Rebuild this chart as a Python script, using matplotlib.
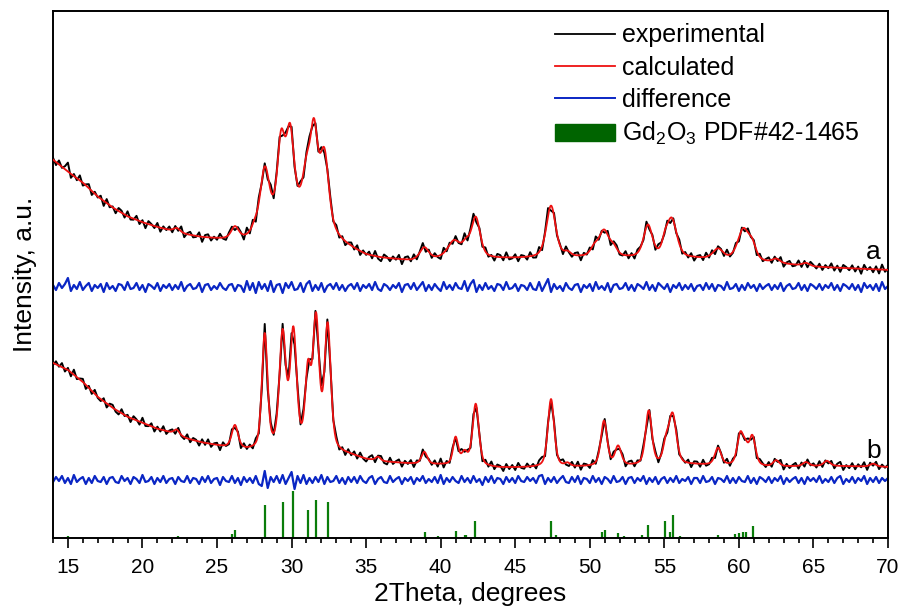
import numpy as np
import matplotlib
matplotlib.use("Agg")
import matplotlib.pyplot as plt
from matplotlib.lines import Line2D
from matplotlib.patches import Patch
from matplotlib.ticker import MultipleLocator

plt.rcParams['font.family'] = ['Liberation Sans', 'DejaVu Sans']
plt.rcParams['mathtext.fontset'] = 'custom'
plt.rcParams['mathtext.rm'] = 'Liberation Sans'
plt.rcParams['mathtext.it'] = 'Liberation Sans:italic'

# --- sample a: background knots and fitted peaks (2theta, a.u.)
bg_a_x = [14, 15, 16, 17, 18, 19, 20, 21, 22, 23, 24, 25, 26, 27, 28, 30, 33, 34, 35, 36, 37, 38,
          40, 45, 50, 57, 60, 62, 65, 70]
bg_a_y = [378, 366, 355, 341, 330, 321, 315, 310, 306, 302, 299, 297, 295, 293, 291, 290, 289, 285,
          280, 278, 277, 276, 278, 279, 280, 279, 277, 275, 271, 268]
peak_a_pos = [30.4, 22.3, 26.2, 27.5, 28.2, 29.3, 29.9, 31.0, 31.5, 32.2, 38.9, 40.9, 41.7, 42.35,
              47.4, 48.5, 50.3, 50.95, 51.6, 53.9, 55.05, 55.5, 58.6, 60.3, 60.9, 62.5, 64.5]
peak_a_h = [36, 4, 12, 6, 62, 76, 76, 36, 84, 73, 12, 17, 11, 40,
            52, 4, 8, 26, 8, 32, 11, 38, 10, 31, 13, 4, 3]
peak_a_w = [3.6, 0.5, 0.6, 0.5, 0.75, 0.6, 0.6, 0.6, 0.6, 0.7, 0.7, 1.0, 0.6, 0.7,
            0.75, 0.5, 0.6, 0.8, 0.6, 0.7, 0.5, 0.8, 0.8, 0.9, 0.6, 0.6, 0.6]

# --- sample b
bg_b_x = [14, 15, 16, 17, 18, 19, 20, 21, 22, 23, 24, 25, 26, 27, 28, 30, 33, 34, 35, 36, 37, 38,
          40, 44, 50, 57, 62, 66, 70]
bg_b_y = [175, 168, 156, 141, 130, 121, 115, 109, 105, 99, 95, 92, 89, 87, 86, 85, 84, 82, 78, 76,
          75, 74, 73, 70, 71, 73, 71, 72, 71]
peak_b_pos = [22.3, 26.2, 28.2, 29.4, 30.12, 31.1, 31.64, 32.42, 35.8, 38.9, 41.0, 41.6, 42.35,
              47.4, 48.5, 50.95, 51.9, 53.95, 55.1, 55.55, 58.6, 60.1, 60.45, 60.9, 62.5, 64.5,
              65.9, 69.0]
peak_b_h = [5, 23, 115, 114, 116, 74, 128, 124, 4, 12, 27, 12, 62,
            68, 3, 45, 19, 54, 17, 50, 17, 31, 13, 29, 6, 4,
            5, 3]
peak_b_w = [0.4, 0.5, 0.45, 0.52, 0.52, 0.45, 0.5, 0.5, 0.4, 0.45, 0.4, 0.5, 0.5,
            0.5, 0.4, 0.5, 0.5, 0.5, 0.45, 0.6, 0.5, 0.5, 0.4, 0.5, 0.5, 0.5,
            0.5, 0.5]

# residuals (exp - calc) every 0.2 deg from 14 to 70
resid_a = [
    2, -3, 4, -1, 3, 9, -4, 2, -2, 5, -3, 1, 4, -4, 2, -1, 3, -5, 4, -2,
    1, -4, 3, 2, -3, 5, -2, -1, 4, -3, 2, -5, 3, 1, -2, 4, -4, 2, -1, 3,
    -3, 2, -2, 5, -4, 1, 3, -2, -1, 4, -5, 2, 3, -3, 1, -2, 4, -1, -3, 2,
    3, -4, 2, 1, -5, 6, -3, 4, -6, 5, -2, 3, -4, 6, -5, 2, 3, -6, 4, -1,
    5, -3, -2, 4, -5, 3, 6, -4, 2, -3, 4, -5, 1, 3, -2, 4, -3, 2, -4, 1,
    3, -2, 4, -4, 2, -1, 3, -3, 5, -2, -4, 3, 1, -3, 2, -1, 4, -5, 2, 3,
    -2, 4, -3, 1, 5, -4, 2, -3, 3, -1, -4, 5, -2, 2, -3, 4, -1, -2, 6, -4,
    3, 7, -5, 2, -3, 4, -2, 1, -4, 3, 2, -3, 5, -2, -1, 3, -4, 2, 1, -3,
    4, -2, -3, 5, -4, 2, 8, -5, 3, -2, 1, -4, 4, -1, -3, 2, 3, -5, 2, -1,
    3, -4, 5, -2, 1, -3, 4, -5, 2, 3, -2, -1, 4, -3, 2, -4, 3, 1, -2, 5,
    -3, 2, -4, 4, 1, -2, 3, -5, 2, -1, 4, -3, 2, -2, 3, -4, 1, 2, -3, 4,
    -2, 3, -4, 2, 1, -3, 5, -2, -1, 3, -4, 2, -3, 4, -1, 2, -4, 3, -2, 1,
    3, -3, 2, -2, 4, -4, 1, 3, -2, -1, 4, -3, 2, -4, 3, 1, -2, 3, -3, 2,
    -1, 4, -3, 2, -4, 3, 1, -2, 3, -3, 2, -5, 4, -1, 2, -3, 3, -4, 5, -2,
    1]
resid_b = [
    -2, 3, -1, 4, -3, 2, -4, 5, -2, 1, 3, -4, 2, -3, 4, -1, -2, 3, -4, 2,
    3, -2, -3, 4, -1, 2, -4, 3, 1, -3, 5, -2, -1, 3, -4, 2, -2, 4, -3, 1,
    2, -4, 3, -1, -2, 4, -3, 2, 1, -4, 3, -2, 4, -3, 1, 2, -5, 3, -1, -2,
    4, -3, 2, -5, 3, -2, 2, -3, 4, -4, -6, 9, -8, 3, -2, 4, -3, 5, -4, 2,
    8, -9, 4, -3, 5, -4, 2, -3, 3, -2, 5, -4, 3, -2, -1, 4, -3, 2, -4, 3,
    -2, 3, -3, 4, -1, -3, 2, 4, -4, 1, 3, -2, -3, 4, -2, 1, 3, -4, 2, -1,
    3, -4, 2, -1, 4, -3, 1, -2, 3, -3, 5, -4, 2, -2, 3, -1, -3, 4, -2, 2,
    -3, 4, -2, 1, -5, 3, -2, 4, -3, 2, 1, -4, 3, -2, 2, -3, 4, -1, -2, 3,
    -1, 2, -3, 4, 5, -4, 2, -2, 3, -3, 1, 4, -2, -3, 3, -2, 4, -4, 2, 1,
    -3, 4, -2, 2, -4, 3, 1, -3, 4, -2, -1, 3, -4, 2, 3, -3, 2, -1, 4, -4,
    2, -2, 3, -4, 1, 3, -3, 2, -2, 4, -3, 1, -1, 3, -4, 2, 2, -3, 4, -2,
    -1, 3, -4, 2, 1, -2, 4, -3, 2, -3, 3, -1, -2, 4, -3, 2, -4, 3, 1, -2,
    3, -3, 2, -1, 4, -4, 2, -2, 1, 3, -3, 2, -4, 3, -1, 2, -2, 4, -3, 1,
    -2, 3, -3, 2, 4, -4, 1, -2, 3, -3, 2, -1, 4, -4, 2, -2, 3, -3, 2, -1,
    2]
diff_a_level = 251
diff_b_level = 58

# Gd2O3 PDF#42-1465 reference lines
ref_pos = [14.98, 22.36, 26.0, 26.2, 28.22, 29.4, 30.1, 31.1, 31.64, 32.46, 33.9, 35.8, 38.95,
           39.8, 41.03, 41.6, 41.7, 42.3, 47.38, 47.74, 48.5, 48.9, 50.8, 51.0, 51.9, 52.3,
           53.5, 53.9, 55.05, 55.4, 55.6, 56.05, 57.0, 58.0, 58.6, 59.74, 60.0, 60.3, 60.45,
           60.93, 62.5, 63.9, 65.0, 65.9, 69.1]
ref_int = [2, 2, 4, 8, 33, 36, 47, 28, 38, 36, 1, 1, 6,
           2, 7, 3, 3, 17, 17, 3, 1, 1, 6, 8, 5, 2,
           3, 13, 17, 6, 23, 2, 1, 1, 3, 4, 5, 6, 6,
           12, 1, 1, 1, 1, 1]


def pseudo_voigt(x, pos, h, w, eta=0.5):
    d = (x - pos) / w
    return h * (eta / (1 + 4 * d ** 2) + (1 - eta) * np.exp(-4 * np.log(2) * d ** 2))


def calc_pattern(x, bg_x, bg_y, pos, h, w, eta):
    y = np.interp(x, bg_x, bg_y)
    for p, hh, ww in zip(pos, h, w):
        y = y + pseudo_voigt(x, p, hh, ww, eta)
    return y


fine = np.arange(14, 70.001, 0.02)
coarse = np.linspace(14, 70, len(resid_a))

fig = plt.figure(figsize=(9.01, 6.08), dpi=100)
ax = fig.add_axes([53 / 901, 1 - 538 / 608, 835 / 901, 527 / 608])

for bg_x, bg_y, pos, h, w, eta, resid, lvl in [
        (bg_a_x, bg_a_y, peak_a_pos, peak_a_h, peak_a_w, 0.5, resid_a, diff_a_level),
        (bg_b_x, bg_b_y, peak_b_pos, peak_b_h, peak_b_w, 0.45, resid_b, diff_b_level)]:
    calc_fine = calc_pattern(fine, bg_x, bg_y, pos, h, w, eta)
    exp_pts = calc_pattern(coarse, bg_x, bg_y, pos, h, w, eta) + np.array(resid)
    ax.plot(coarse, exp_pts, color='black', lw=1.4, zorder=2)
    ax.plot(fine, calc_fine, color='#ee1111', lw=1.3, zorder=3)
    ax.plot(coarse, lvl + np.array(resid), color='#0a26c4', lw=1.6, zorder=2)

ax.vlines(ref_pos, 0, ref_int, color='#0a7d0a', lw=1.6, zorder=2)

ax.text(69.0, 286, 'a', fontsize=19, ha='center', va='center')
ax.text(69.05, 87, 'b', fontsize=19, ha='center', va='center')

ax.set_xlim(14, 70)
ax.set_ylim(0, 527)
ax.set_yticks([])
ax.xaxis.set_major_locator(MultipleLocator(5))
ax.xaxis.set_minor_locator(MultipleLocator(1))
ax.tick_params(axis='x', which='major', direction='out', length=7, width=1.2, labelsize=15, pad=7.5)
ax.tick_params(axis='x', which='minor', direction='out', length=3.6, width=1.2)
for sp in ax.spines.values():
    sp.set_linewidth(1.4)

ax.set_xlabel('2Theta, degrees', fontsize=19, labelpad=3.5)
ax.set_ylabel('Intensity, a.u.', fontsize=19, labelpad=11.5)

handles = [Line2D([], [], color='black', lw=1.3),
           Line2D([], [], color='#ee1111', lw=1.3),
           Line2D([], [], color='#0a26c4', lw=1.4),
           Patch(facecolor='#006400', edgecolor='#006400')]
labels = ['experimental', 'calculated', 'difference', r'Gd$_2$O$_3$ PDF#42-1465']
ax.legend(handles, labels, loc='upper left', bbox_to_anchor=(0.601, 0.9765), frameon=False,
          fontsize=18, borderpad=0, borderaxespad=0, handlelength=2.4, handletextpad=0.3,
          labelspacing=0.33)

fig.savefig('out.png', dpi=100)
